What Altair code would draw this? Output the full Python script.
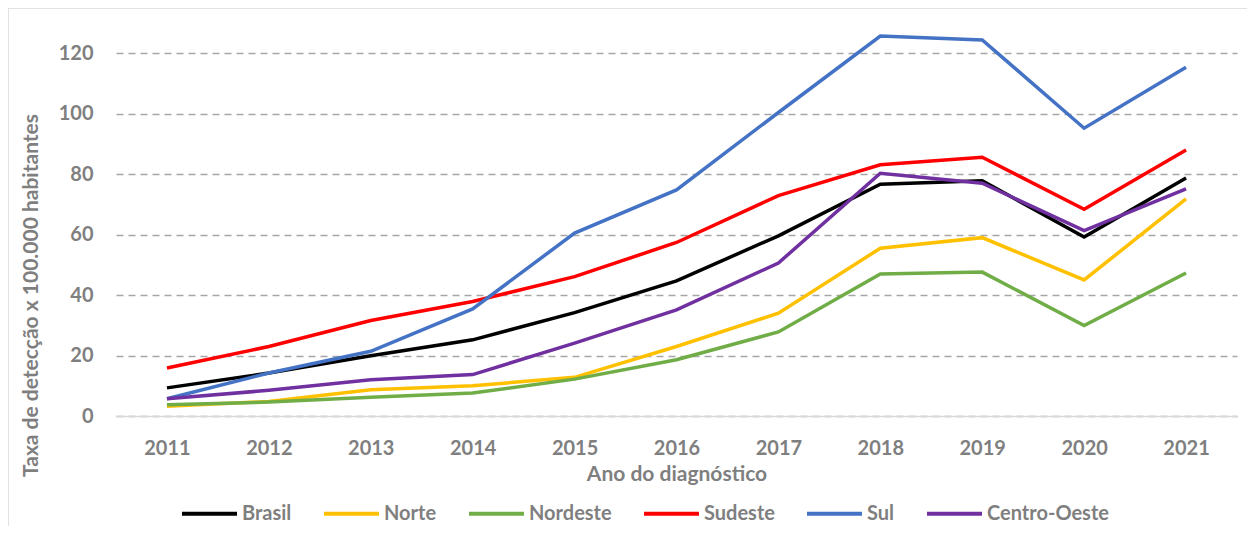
import altair as alt
import pandas as pd

years = ["2011", "2012", "2013", "2014", "2015", "2016", "2017", "2018", "2019", "2020", "2021"]
brasil = [9.3, 14.2, 19.9, 25.2, 34.2, 44.7, 59.6, 76.7, 77.8, 59.2, 78.7]
norte = [3.2, 4.8, 8.7, 10.0, 12.8, 23.0, 34.0, 55.5, 59.0, 45.0, 71.8]
nordeste = [3.7, 4.6, 6.2, 7.6, 12.2, 18.6, 27.8, 47.0, 47.6, 29.9, 47.3]
sudeste = [15.9, 23.0, 31.6, 37.9, 46.1, 57.4, 72.9, 83.1, 85.6, 68.4, 88.0]
sul = [5.7, 14.2, 21.4, 35.4, 60.5, 74.8, 100.4, 125.7, 124.4, 95.2, 115.4]
centro_oeste = [5.7, 8.5, 12.0, 13.7, 24.1, 35.1, 50.6, 80.3, 77.0, 61.3, 75.1]

series_names = ["Brasil", "Norte", "Nordeste", "Sudeste", "Sul", "Centro-Oeste"]
series_values = [brasil, norte, nordeste, sudeste, sul, centro_oeste]
series_colors = ["#000000", "#FFC000", "#70AD47", "#FF0000", "#4472C4", "#7030A0"]
y_ticks = [0, 20, 40, 60, 80, 100, 120]

rows = []
for name, vals in zip(series_names, series_values):
    for yr, v in zip(years, vals):
        rows.append({"Ano": yr, "Regiao": name, "Taxa": v})
df = pd.DataFrame(rows)

FONT = "Lato"
GRAY = "#7F7F7F"

lines = alt.Chart(df).mark_line(strokeWidth=3.5).encode(
    x=alt.X("Ano:O", sort=years,
            scale=alt.Scale(type="point", padding=0.5),
            axis=alt.Axis(title="Ano do diagnóstico", labelAngle=0, ticks=False,
                          domain=True, domainColor="#D9D9D9", domainWidth=1.5,
                          labelPadding=22, titlePadding=5)),
    y=alt.Y("Taxa:Q", scale=alt.Scale(domain=[0, 130], nice=False),
            axis=alt.Axis(title="Taxa de detecção x 100.000 habitantes", values=y_ticks,
                          ticks=False, domain=False, grid=True,
                          gridDash=[7, 5], gridColor="#A6A6A6", gridWidth=1.5,
                          labelPadding=23, titlePadding=17, titleY=272)),
    color=alt.Color("Regiao:N", sort=series_names,
                    scale=alt.Scale(domain=series_names, range=series_colors),
                    legend=alt.Legend(title=None, orient="none", direction="horizontal",
                                      legendX=64, legendY=461,
                                      symbolType="stroke", symbolSize=3025,
                                      symbolStrokeWidth=4, labelOffset=3,
                                      columnPadding=24, labelLimit=300)),
)

frame_df = pd.DataFrame({"k": [0]})
top_border = alt.Chart(frame_df).mark_rule(color="#D9D9D9", strokeWidth=1.5).encode(
    x=alt.value(-108), x2=alt.value(1139), y=alt.value(-15)
)
left_border = alt.Chart(frame_df).mark_rule(color="#D9D9D9", strokeWidth=1.5).encode(
    x=alt.value(-108), y=alt.value(-15), y2=alt.value(510)
)

chart = alt.layer(top_border, left_border, lines).properties(
    width=1121, height=393,
    autosize=alt.AutoSizeParams(type="none"),
    padding={"left": 108, "top": 15, "right": 10, "bottom": 110},
).configure_view(stroke=None).configure_axis(
    labelFont=FONT, titleFont=FONT, labelFontSize=20, titleFontSize=21,
    labelFontWeight="bold", titleFontWeight="bold",
    labelColor=GRAY, titleColor=GRAY,
).configure_legend(
    labelFont=FONT, labelFontSize=20, labelFontWeight="bold", labelColor=GRAY,
)

chart.save("out.html", embed_options={"renderer": "svg", "actions": False})
